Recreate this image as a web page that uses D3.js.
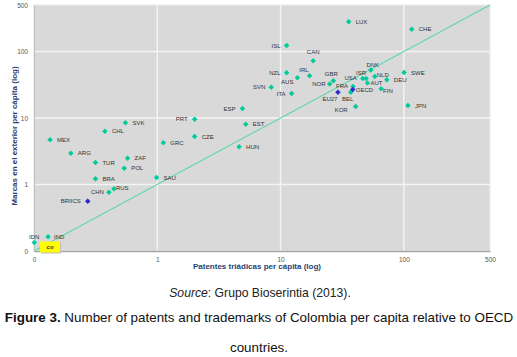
<!DOCTYPE html>
<html>
<head>
<meta charset="utf-8">
<script src="https://cdn.jsdelivr.net/npm/d3@7"></script>
<style>
  html, body { margin: 0; padding: 0; background: #fff; }
  svg { display: block; font-family: "Liberation Sans", Arial, sans-serif; }
</style>
</head>
<body>
<svg id="chart" width="517" height="357"></svg>
<script>
// country codes, triadic patents per capita (x), trademarks abroad per capita (y)
const countries = ["LUX", "CHE", "ISL", "CAN", "NZL", "IRL", "AUS", "GBR", "NOR", "SVN", "ITA",
  "FRA", "BEL", "USA", "ISR", "DNK", "NLD", "AUT", "DEU", "FIN", "SWE", "KOR", "JPN",
  "ESP", "EST", "HUN", "PRT", "CZE", "GRC", "SAU", "SVK", "CHL", "MEX", "ARG", "TUR",
  "ZAF", "POL", "BRA", "RUS", "CHN", "IDN", "IND"];
const patents = [35.7, 116, 11.2, 18.4, 11.2, 17.2, 13.7, 26.8, 25.0, 8.4, 12.3,
  38.7, 37.1, 46.4, 49.4, 53.9, 58.1, 50.7, 72.8, 65.4, 100.5, 40.7, 108,
  4.91, 5.22, 4.61, 2.01, 2.01, 1.12, 0.987, 0.552, 0.376, 0.135, 0.199, 0.315,
  0.574, 0.539, 0.315, 0.445, 0.405, 0.1005, 0.130];
const marks = [280, 216, 123, 72.5, 47.8, 43.1, 40.2, 36.3, 32.5, 29.1, 23.4,
  29.8, 24.4, 39.3, 39.3, 52.7, 42.1, 33.6, 37.5, 27.5, 48.3, 14.9, 15.4,
  13.9, 8.07, 3.69, 9.59, 5.27, 4.24, 1.27, 8.47, 6.33, 4.70, 2.96, 2.14,
  2.49, 1.76, 1.22, 0.862, 0.766, 0.134, 0.164];

// aggregates (blue)
const groups = ["EU27", "OECD", "BRIICS"];
const groupPatents = [29.2, 38.5, 0.273];
const groupMarks = [24.4, 26.8, 0.561];

// Colombia
const coPatents = 0.135;
const coMarks = 0.115;

// 45° reference line
const diagonal = [0.1, 500];

const xTickVals = [0.1, 1, 10, 100, 500];
const xTickText = ["0", "1", "10", "100", "500"];
const yTickVals = [0.1, 1, 10, 100, 500];
const yTickText = ["0", "1", "10", "100", "500"];
const gridVals = [1, 10, 100];

// label placement: [dx, dy, anchor]
const labelAt = {
  ISL: [-6, 0, "end"], CAN: [0, -9, "middle"], NZL: [-6, 0, "end"], IRL: [-1, -6, "end"],
  AUS: [-4, 4, "end"], GBR: [-2, -7, "middle"], NOR: [-4, 0, "end"], SVN: [-6, 0, "end"],
  ITA: [-6, 0, "end"], FRA: [-5, -1, "end"], BEL: [-3, 7, "middle"], USA: [-6, -1, "end"],
  ISR: [-5, -6, "middle"], DNK: [2, -5, "middle"], NLD: [2, -2, "start"], AUT: [3, 0, "start"],
  FIN: [2, 2, "start"], KOR: [-8, 3, "end"], ESP: [-7, 0, "end"], PRT: [-7, 0, "end"],
  RUS: [2, -1, "start"], CHN: [-5, 0, "end"], IDN: [0, -6, "middle"], IND: [6, 0, "start"],
  EU27: [-8, 7, "middle"], OECD: [3, 0, "start"], BRIICS: [-7, 0, "end"]
};
const defaultLabel = [7, 0, "start"];

const svg = d3.select("#chart");
const margin = { top: 5, right: 27, bottom: 106, left: 34 };
const W = 517, H = 357;
const innerW = W - margin.left - margin.right;
const innerH = H - margin.top - margin.bottom;

const x = d3.scaleLog().domain([0.1, 500]).range([0, innerW]);
const y = d3.scaleLog().domain([0.1, 500]).range([innerH, 0]);

const g = svg.append("g").attr("transform", `translate(${margin.left},${margin.top})`);

g.append("rect")
  .attr("width", innerW)
  .attr("height", innerH)
  .attr("fill", "#d9d9d9")
  .attr("stroke", "#ebebeb")
  .attr("stroke-width", 1.2);

g.selectAll("line.gx")
  .data(gridVals)
  .enter()
  .append("line")
  .attr("x1", (d) => x(d)).attr("x2", (d) => x(d))
  .attr("y1", 0).attr("y2", innerH)
  .attr("stroke", "#f4f4f4")
  .attr("stroke-width", 1.4);

g.selectAll("line.gy")
  .data(gridVals)
  .enter()
  .append("line")
  .attr("y1", (d) => y(d)).attr("y2", (d) => y(d))
  .attr("x1", 0).attr("x2", innerW)
  .attr("stroke", "#f4f4f4")
  .attr("stroke-width", 1.4);

const xAxis = g.append("g")
  .attr("transform", `translate(0,${innerH})`)
  .call(d3.axisBottom(x).tickValues(xTickVals)
    .tickFormat((d, i) => xTickText[i]).tickSize(0).tickPadding(6));
xAxis.selectAll("text").attr("fill", "#555").attr("font-size", 6.5);
xAxis.select(".domain").attr("stroke", "#a6a6a6").attr("stroke-width", 1.3);

const yAxis = g.append("g")
  .call(d3.axisLeft(y).tickValues(yTickVals)
    .tickFormat((d, i) => yTickText[i]).tickSize(0).tickPadding(6));
yAxis.selectAll("text").attr("fill", "#555").attr("font-size", 6.5);
yAxis.select(".domain").attr("stroke", "#bdbdbd").attr("stroke-width", 1);

g.append("line")
  .attr("x1", x(diagonal[0])).attr("y1", y(diagonal[0]))
  .attr("x2", x(diagonal[1])).attr("y2", y(diagonal[1]))
  .attr("stroke", "#5fd6ae")
  .attr("stroke-width", 1.1);

const points = countries.map((c, i) => ({ code: c, px: patents[i], py: marks[i], group: false }))
  .concat(groups.map((c, i) => ({ code: c, px: groupPatents[i], py: groupMarks[i], group: true })));

const diamond = d3.symbol().type(d3.symbolSquare).size(15);

g.selectAll("path.pt")
  .data(points)
  .enter()
  .append("path")
  .attr("class", "pt")
  .attr("d", diamond)
  .attr("transform", (d) => `translate(${x(d.px)},${y(d.py)}) rotate(45)`)
  .attr("fill", (d) => (d.group ? "#2a2ad0" : "#00cc99"));

g.selectAll("text.lbl")
  .data(points)
  .enter()
  .append("text")
  .attr("class", "lbl")
  .attr("x", (d) => x(d.px) + (labelAt[d.code] || defaultLabel)[0])
  .attr("y", (d) => y(d.py) + (labelAt[d.code] || defaultLabel)[1])
  .attr("dy", "0.35em")
  .attr("text-anchor", (d) => (labelAt[d.code] || defaultLabel)[2])
  .attr("font-size", 6)
  .attr("fill", "#333")
  .text((d) => d.code);

// Colombia marker: yellow tag
const co = g.append("g").attr("transform", `translate(${x(coPatents)},${y(coMarks)})`);
co.append("rect")
  .attr("x", -9).attr("y", -4.5).attr("width", 20).attr("height", 11)
  .attr("fill", "#bdbdbd");
co.append("rect")
  .attr("x", -10).attr("y", -5.5).attr("width", 20).attr("height", 11)
  .attr("fill", "#ffff00");
co.append("text")
  .attr("x", 0).attr("y", 0)
  .attr("dy", "0.35em")
  .attr("text-anchor", "middle")
  .attr("font-size", 6)
  .attr("font-weight", "bold")
  .attr("fill", "#333")
  .text("co");

// axis titles
svg.append("text")
  .attr("x", margin.left + innerW / 2 - 5)
  .attr("y", 269)
  .attr("text-anchor", "middle")
  .attr("font-size", 8)
  .attr("font-weight", "bold")
  .attr("fill", "#1f3f73")
  .text("Patentes triádicas per cápita (log)");

svg.append("text")
  .attr("transform", "translate(17,136) rotate(-90)")
  .attr("text-anchor", "middle")
  .attr("font-size", 8)
  .attr("font-weight", "bold")
  .attr("fill", "#1f3f73")
  .text("Marcas en el exterior per cápita (log)");

// source and caption
const src = svg.append("text")
  .attr("x", 260).attr("y", 297)
  .attr("text-anchor", "middle")
  .attr("font-size", 12.2)
  .attr("fill", "#222");
src.append("tspan").attr("font-style", "italic").text("Source");
src.append("tspan").text(": Grupo Bioserintia (2013).");

const cap = svg.append("text")
  .attr("x", 259).attr("y", 321.5)
  .attr("text-anchor", "middle")
  .attr("font-size", 13.4)
  .attr("fill", "#111");
cap.append("tspan").attr("font-weight", "bold").text("Figure 3.");
cap.append("tspan").text(" Number of patents and trademarks of Colombia per capita relative to OECD");

svg.append("text")
  .attr("x", 259).attr("y", 351.5)
  .attr("text-anchor", "middle")
  .attr("font-size", 13.4)
  .attr("fill", "#111")
  .text("countries.");
</script>
</body>
</html>
